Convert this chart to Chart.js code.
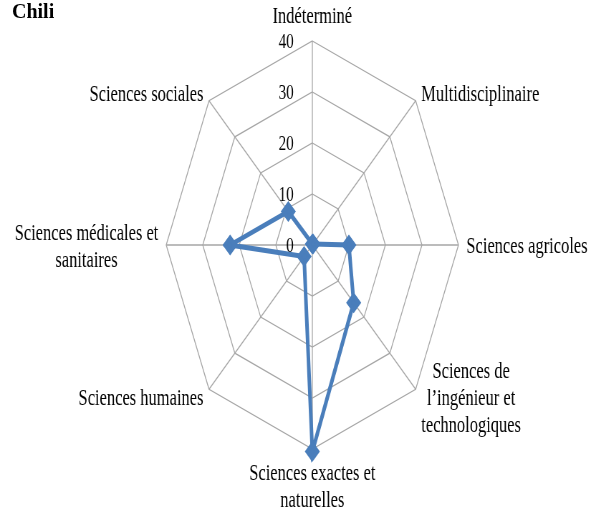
<!DOCTYPE html>
<html>
<head>
<meta charset="utf-8">
<script src="https://cdn.jsdelivr.net/npm/chart.js@4"></script>
<style>
  body { margin: 0; background: #fff; }
  #wrap { position: relative; width: 596px; height: 511px; }
  #title { position: absolute; left: 12px; top: 0; font: bold 20px "Liberation Serif", serif; color: #000; }
</style>
</head>
<body>
<div id="wrap">
  <!-- the chart is drawn wide and squeezed to 596px, like the original -->
  <canvas id="chart" width="832" height="511" style="display:block;width:596px;height:511px"></canvas>
  <div id="title">Chili</div>
</div>
<script>
const categories = [
  ["Indéterminé"],
  ["Multidisciplinaire"],
  ["Sciences agricoles"],
  ["Sciences de", "l’ingénieur et", "technologiques"],
  ["Sciences exactes et", "naturelles"],
  ["Sciences humaines"],
  ["Sciences médicales et", "sanitaires"],
  ["Sciences sociales"],
]
const values = [0.2, 0.3, 10, 16, 40.5, 3.2, 22.5, 9.3]
const tickValues = [0, 10, 20, 30, 40]

// axis names and tick numbers, placed from the radial scale
const axisText = {
  id: "axisText",
  afterDraw(chart) {
    const scale = chart.scales.r
    const ctx = chart.ctx
    const lineH = 27
    ctx.save()
    ctx.fillStyle = "#000"
    ctx.font = '23px "Liberation Serif"'
    ctx.textBaseline = "middle"
    ctx.textAlign = "center"
    categories.forEach((lines, i) => {
      const p = scale.getPointPosition(i, scale.drawingArea + 11)
      const w = Math.max(...lines.map(l => ctx.measureText(l).width))
      const h = lines.length * lineH
      const dx = p.x - scale.xCenter
      const dy = p.y - scale.yCenter
      let cx = p.x
      let top = p.y - h / 2 + 2
      if (dx > 1) cx = p.x + w / 2
      else if (dx < -1) cx = p.x - w / 2
      else if (dy < 0) top = p.y - h
      else top = p.y
      lines.forEach((l, j) => ctx.fillText(l, cx, top + lineH * (j + 0.5)))
    })

    ctx.font = '21px "Liberation Serif"'
    ctx.textAlign = "right"
    tickValues.forEach(v => {
      const y = scale.yCenter - scale.getDistanceFromCenterForValue(v)
      ctx.fillText(String(v), scale.xCenter - 26, y + 1)
    })
    ctx.restore()
  },
}

const ctx = document.getElementById("chart").getContext("2d")
new Chart(ctx, {
  type: "radar",
  data: {
    labels: categories,
    datasets: [
      {
        data: values,
        borderColor: "#4a7ebb",
        backgroundColor: "#4a7ebb",
        pointBackgroundColor: "#4a7ebb",
        pointBorderColor: "#4a7ebb",
        pointStyle: "rectRot",
        pointRadius: 7,
        borderWidth: 5,
        fill: false,
        tension: 0,
        clip: false,
      },
    ],
  },
  options: {
    responsive: false,
    devicePixelRatio: 1,
    animation: false,
    layout: {
      padding: { left: 136, right: 96, top: 41, bottom: 62 },
    },
    plugins: {
      legend: { display: false },
      tooltip: { enabled: false },
    },
    scales: {
      r: {
        min: 0,
        max: 40,
        ticks: { display: false, stepSize: 10 },
        pointLabels: { display: false },
        grid: { color: "#a6a6a6", lineWidth: 1.3 },
        angleLines: { color: "#a6a6a6", lineWidth: 1.3 },
      },
    },
  },
  plugins: [axisText],
})
</script>
</body>
</html>
